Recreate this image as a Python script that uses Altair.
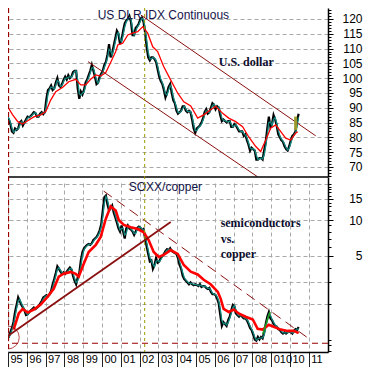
import altair as alt
import pandas as pd

# ---------------- data ----------------
START_YEAR, START_MONTH = 1994, 8   # first monthly observation (Aug 1994)

usd_close = [
    89.5, 89.0, 87.5, 88.0, 87.0,
    86.0, 84.5, 82.0, 81.5, 83.0, 82.5, 83.0, 85.0, 85.5, 84.0, 85.0, 86.0,
    87.0, 86.8, 87.2, 87.8, 88.5, 88.2, 87.0, 87.0, 88.0, 88.5, 87.8, 88.5,
    93.0, 96.0, 96.5, 97.5, 96.0, 96.5, 98.5, 100.0, 97.5, 97.0, 98.0, 99.5,
    100.5, 99.5, 101.0, 100.0, 100.5, 102.0, 102.5, 102.5, 96.5, 93.0, 95.5, 94.5,
    96.0, 98.5, 99.5, 101.0, 102.5, 104.5, 102.5, 100.5, 98.0, 98.5, 100.5, 101.5,
    102.5, 104.5, 105.5, 108.0, 111.5, 107.0, 108.5, 111.0, 113.5, 116.0, 115.0, 111.5,
    113.0, 116.0, 118.5, 119.5, 120.0, 121.0, 119.0, 114.5, 114.5, 117.0, 117.5, 118.5,
    120.0, 120.5, 119.0, 115.5, 110.5, 107.0, 106.0, 107.0, 107.0, 106.5, 105.5, 103.0,
    100.5, 99.0, 98.0, 96.0, 93.5, 95.0, 97.0, 98.0, 95.0, 92.5, 91.5, 89.0,
    88.0, 88.5, 89.0, 90.5, 90.5, 89.0, 88.5, 89.0, 88.5, 86.0, 83.0, 81.5,
    83.0, 83.5, 84.0, 85.0, 86.5, 88.5, 89.5, 88.0, 88.5, 90.0, 91.5, 91.0,
    89.5, 90.5, 90.0, 87.5, 85.5, 86.0, 85.5, 85.0, 85.5, 85.5, 83.5, 83.5,
    84.5, 84.0, 83.0, 82.0, 82.0, 82.0, 80.5, 81.0, 79.0, 77.5, 75.5, 76.5,
    76.0, 75.5, 72.5, 72.5, 73.0, 73.0, 72.5, 75.5, 78.5, 83.0, 87.0, 83.5,
    84.5, 87.5, 86.0, 84.0, 81.0, 80.0, 79.0, 78.5, 77.0, 76.0, 75.5, 77.0,
    79.0, 80.5, 81.0, 82.0, 85.5, 88.0,
]

soxx_copper = [
    1.15, 1.12, 1.10, 1.08, 1.02,
    1.05, 1.15, 1.25, 1.40, 1.70, 1.95, 2.25, 2.10, 1.95, 1.85, 1.75, 1.60,
    1.62, 1.70, 1.75, 1.80, 1.85, 1.80, 1.85, 1.90, 2.00, 2.10, 2.25, 2.30,
    2.35, 2.30, 2.40, 2.55, 2.90, 3.20, 3.60, 4.10, 3.90, 3.70, 3.55, 3.65,
    3.55, 3.70, 3.85, 4.00, 3.85, 3.40, 3.10, 2.90, 3.30, 3.60, 4.60, 5.40,
    5.80, 6.00, 6.20, 6.30, 6.20, 6.40, 6.80, 7.00, 7.20, 7.60, 8.20, 9.20,
    12.0, 15.5, 16.0, 13.5, 12.0, 12.5, 13.2, 11.5, 10.5, 9.5, 8.5, 8.0,
    9.0, 8.0, 7.0, 8.5, 9.0, 8.5, 8.3, 8.0, 7.5, 8.0, 8.6, 8.8,
    8.6, 8.2, 8.4, 7.0, 6.0, 5.2, 4.5, 4.6, 3.9, 4.2, 4.8, 4.4,
    4.5, 4.8, 5.0, 5.2, 5.5, 5.7, 5.6, 5.8, 5.5, 5.4, 5.3, 5.2,
    4.8, 4.2, 3.9, 3.4, 3.2, 3.1, 3.0, 2.9, 3.0, 2.9, 2.85, 2.9,
    2.85, 2.8, 2.9, 2.75, 2.8, 2.8, 2.7, 2.65, 2.7, 2.5, 2.4, 2.4,
    2.35, 2.2, 2.0, 1.6, 1.3, 1.4, 1.35, 1.3, 1.45, 1.55, 1.75, 1.95,
    1.9, 1.65, 1.6, 1.55, 1.6, 1.55, 1.5, 1.5, 1.45, 1.35, 1.25, 1.2,
    1.1, 1.0, 0.98, 1.05, 1.0, 1.05, 1.02, 1.15, 1.35, 1.55, 1.7, 1.5,
    1.45, 1.35, 1.3, 1.28, 1.22, 1.2, 1.15, 1.12, 1.15, 1.12, 1.15, 1.16,
    1.15, 1.12, 1.18, 1.22, 1.2, 1.27,
]

usd_ma_t = [1994.70, 1994.98, 1995.25, 1995.52, 1995.78, 1996.05, 1996.37, 1996.74,
            1997.01, 1997.27, 1997.54, 1997.91, 1998.23, 1998.60, 1998.87, 1999.13,
            1999.40, 1999.67, 1999.93, 2000.20, 2000.46, 2000.73, 2000.84, 2001.10,
            2001.37, 2001.63, 2001.90, 2002.17, 2002.43, 2002.70, 2002.96, 2003.28,
            2003.65, 2004.03, 2004.35, 2004.72, 2005.09, 2005.41, 2005.78, 2006.05,
            2006.42, 2006.74, 2007.11, 2007.48, 2007.80, 2008.18, 2008.44, 2008.71,
            2008.97, 2009.24, 2009.51, 2009.77, 2010.04, 2010.30, 2010.41]
usd_ma_v = [92.1, 90.4, 87.6, 85.3, 84.5, 85.6, 86.9, 87.6,
            88.7, 92.6, 95.4, 96.9, 98.8, 99.6, 97.7, 97.7,
            99.6, 101.1, 100.7, 101.9, 105.3, 109.0, 111.2, 111.8,
            114.6, 115.2, 115.7, 117.4, 115.2, 110.6, 109.0, 103.9,
            99.4, 94.9, 92.0, 90.6, 86.5, 87.6, 89.3, 90.5,
            88.1, 86.5, 85.3, 83.6, 80.2, 76.9, 75.2, 79.1,
            83.1, 84.2, 81.9, 79.7, 79.1, 81.4, 81.9]

soxx_ma_t = [1995.30, 1995.57, 1995.78, 1996.05, 1996.37, 1996.74, 1997.11, 1997.43,
             1997.70, 1997.96, 1998.34, 1998.60, 1998.76, 1999.03, 1999.29, 1999.67,
             1999.93, 2000.20, 2000.46, 2000.73, 2000.89, 2001.16, 2001.53, 2001.90,
             2002.22, 2002.48, 2002.75, 2003.02, 2003.28, 2003.65, 2004.03, 2004.35,
             2004.72, 2005.09, 2005.41, 2005.78, 2006.16, 2006.31, 2006.47, 2006.74,
             2007.01, 2007.27, 2007.64, 2008.02, 2008.28, 2008.55, 2008.87, 2009.13,
             2009.51, 2009.88, 2010.20, 2010.46]
soxx_ma_v = [1.21, 1.65, 1.80, 1.68, 1.78, 1.96, 2.28, 2.66,
             3.35, 3.55, 3.68, 3.55, 3.35, 4.30, 5.40, 6.20,
             7.20, 10.2, 13.0, 12.0, 10.0, 9.1, 8.7, 8.4,
             7.9, 6.8, 5.4, 4.9, 5.1, 5.6, 5.2, 4.2,
             3.7, 3.5, 3.16, 2.9, 2.5, 2.2, 1.8, 1.7,
             1.78, 1.65, 1.55, 1.47, 1.23, 1.21, 1.33, 1.28,
             1.21, 1.18, 1.18, 1.13]

# annotation lines (start / end in data units)
usd_channel_upper = [(2002.06, 121.35), (2011.37, 80.5)]
usd_channel_lower = [(1999.256, 105.57), (2008.27, 66.7)]
soxx_uptrend = [(1994.878, 1.04), (2003.655, 9.62)]
soxx_downtrend = [(2000.09, 17.45), (2010.99, 1.02)]
soxx_green = [(2008.55, 1.11), (2008.94, 1.70)]
usd_olive_bar = (2010.30, 82.5, 87.0)
marker_1995 = 1995.02
marker_2002 = 2002.27
soxx_floor = 0.93
circle_pt = (1994.985, 1.04)

x_years = list(range(1995, 2012))
usd_ticks = list(range(70, 121, 5))
soxx_ticks = [5, 10, 15]
soxx_grid = [2, 3, 5, 10, 15, 20]

# ---------------- scales ----------------
PX_PER_YEAR = 18.8
W, H = 320, 344
SEP = 169
X_DOM = [1995.0, 1995.0 + W / PX_PER_YEAR]
TOP_DOM = [66.6, 123.7]
BOT_DOM = [0.786, 22.9]

xs = alt.Scale(domain=X_DOM, nice=False, zero=False)
top_s = alt.Scale(domain=TOP_DOM, range=[SEP, 0], nice=False, zero=False)
bot_s = alt.Scale(type="log", domain=BOT_DOM, range=[H, SEP], nice=False)

FONT = "Liberation Sans"
SERIF = "Liberation Serif"
GRID = "#a8a8a8"
MAROON = "#8b1010"
TEAL = "#13877f"


def month_t(i):
    m = START_MONTH - 1 + i
    return START_YEAR + m // 12 + ((m % 12) + 0.5) / 12


usd_df = pd.DataFrame({"t": [month_t(i) for i in range(len(usd_close))], "v": usd_close})
sox_df = pd.DataFrame({"t": [month_t(i) for i in range(len(soxx_copper))], "v": soxx_copper})
usd_ma = pd.DataFrame({"t": usd_ma_t, "v": usd_ma_v})
sox_ma = pd.DataFrame({"t": soxx_ma_t, "v": soxx_ma_v})


def seg_df(pts):
    return pd.DataFrame({"t": [p[0] for p in pts], "v": [p[1] for p in pts]})


x_axis = alt.Axis(
    values=x_years, orient="bottom", title=None, grid=True, gridDash=[4, 3],
    gridColor=GRID, tickSize=15, tickColor="#222222", labelAlign="left",
    labelOffset=2, labelPadding=-14, labelFlush=False, labelOverlap=False,
    labelFontSize=11, labelFont=FONT, labelColor="black", labelBaseline="top",
    labelExpr="datum.value == 2009 ? '010' : substring(toString(datum.value), 2, 4)",
    domainColor="black", domainWidth=1.5,
)
# every layer carries the same x axis definition so the shared axis merges cleanly
X0 = alt.X("t:Q", scale=xs, axis=x_axis)

top_major = alt.Axis(
    orient="right", values=usd_ticks, title=None, grid=True, gridDash=[4, 3],
    gridColor=GRID, tickSize=5, tickColor="black", domainColor="black",
    domainWidth=1.5, labelAlign="right", labelPadding=29, labelFontSize=12,
    labelFont=FONT, labelColor="black", labelBaseline="middle", labelFlush=False,
    labelOverlap=False,
)
top_minor = alt.Axis(
    orient="right", values=list(range(67, 124)), title=None, grid=False,
    labels=False, domain=False, tickSize=3, tickColor="black",
)
bot_major = alt.Axis(
    orient="right", values=soxx_ticks, title=None, grid=False, tickSize=5,
    tickColor="black", domainColor="black", domainWidth=1.5, labelAlign="right",
    labelPadding=29, labelFontSize=12, labelFont=FONT, labelColor="black",
    labelBaseline="middle", labelFlush=False, labelOverlap=False,
)
bot_grid = alt.Axis(
    orient="right", values=soxx_grid, title=None, grid=True, gridDash=[4, 3],
    gridColor=GRID, labels=False, ticks=False, domain=False,
)
bot_minor = alt.Axis(
    orient="right", values=[0.8, 0.9] + list(range(1, 21)), title=None,
    grid=False, labels=False, domain=False, tickSize=3, tickColor="black",
)

layers = []

# ---- top panel: US dollar index ----
layers.append(
    alt.Chart(usd_df).mark_line(color="black", strokeWidth=2.2).encode(
        x=X0, y=alt.Y("v:Q", scale=top_s, axis=top_major)
    )
)
layers.append(
    alt.Chart(usd_df)
    .transform_window(ma="mean(v)", frame=[-1, 0], sort=[alt.SortField("t")])
    .mark_line(color=TEAL, strokeWidth=1.3)
    .encode(x=X0, y=alt.Y("ma:Q", scale=top_s, axis=top_minor))
)
layers.append(
    alt.Chart(usd_ma).mark_line(color="#ff0000", strokeWidth=1.3).encode(
        x=X0, y=alt.Y("v:Q", scale=top_s, axis=None)
    )
)
for seg in (usd_channel_upper, usd_channel_lower):
    layers.append(
        alt.Chart(seg_df(seg)).mark_line(color=MAROON, strokeWidth=1, clip=True).encode(
            x=X0, y=alt.Y("v:Q", scale=top_s, axis=None)
        )
    )
layers.append(
    alt.Chart(pd.DataFrame({"t": [usd_olive_bar[0]], "a": [usd_olive_bar[1]], "b": [usd_olive_bar[2]]}))
    .mark_rule(color="#9a9a2a", strokeWidth=3)
    .encode(x=X0, y=alt.Y("a:Q", scale=top_s, axis=None), y2="b:Q")
)
top_text = pd.DataFrame({
    "t": [1999.77, 2006.21], "v": [121.4, 105.5],
    "label": ["US DLR IDX Continuous", "U.S. dollar"],
})
layers.append(
    alt.Chart(top_text.iloc[[0]]).mark_text(
        align="left", baseline="middle", font=FONT, fontSize=12, color="#14144a"
    ).encode(x=X0, y=alt.Y("v:Q", scale=top_s, axis=None), text="label:N")
)
layers.append(
    alt.Chart(top_text.iloc[[1]]).mark_text(
        align="left", baseline="middle", font=SERIF, fontSize=12, fontWeight="bold",
        color="#0d0d2e"
    ).encode(x=X0, y=alt.Y("v:Q", scale=top_s, axis=None), text="label:N")
)
# panel separator at the bottom of the top scale
layers.append(
    alt.Chart(pd.DataFrame({"v": [TOP_DOM[0]]})).mark_rule(color="black", strokeWidth=1.5).encode(
        y=alt.Y("v:Q", scale=top_s, axis=None)
    )
)

# ---- bottom panel: SOXX / copper ----
layers.append(
    alt.Chart(sox_df).mark_line(color="black", strokeWidth=2.2).encode(
        x=X0, y=alt.Y("v:Q", scale=bot_s, axis=bot_major)
    )
)
layers.append(
    alt.Chart(sox_df)
    .transform_window(ma="mean(v)", frame=[-1, 0], sort=[alt.SortField("t")])
    .mark_line(color=TEAL, strokeWidth=1.3)
    .encode(x=X0, y=alt.Y("ma:Q", scale=bot_s, axis=bot_minor))
)
layers.append(
    alt.Chart(sox_ma).mark_line(color="#ff0000", strokeWidth=2.6).encode(
        x=X0, y=alt.Y("v:Q", scale=bot_s, axis=bot_grid)
    )
)
layers.append(
    alt.Chart(seg_df(soxx_uptrend)).mark_line(color=MAROON, strokeWidth=1.8, clip=True).encode(
        x=X0, y=alt.Y("v:Q", scale=bot_s, axis=None)
    )
)
layers.append(
    alt.Chart(seg_df(soxx_downtrend)).mark_line(color=MAROON, strokeWidth=1, strokeDash=[10, 6]).encode(
        x=X0, y=alt.Y("v:Q", scale=bot_s, axis=None)
    )
)
layers.append(
    alt.Chart(seg_df(soxx_green)).mark_line(color="#1f9a1f", strokeWidth=1.6).encode(
        x=X0, y=alt.Y("v:Q", scale=bot_s, axis=None)
    )
)
layers.append(
    alt.Chart(pd.DataFrame({"v": [soxx_floor]})).mark_rule(color="#990000", strokeWidth=1.2, strokeDash=[6, 4]).encode(
        y=alt.Y("v:Q", scale=bot_s, axis=None)
    )
)
layers.append(
    alt.Chart(pd.DataFrame({"t": [circle_pt[0]], "v": [circle_pt[1]]})).mark_point(
        shape="circle", size=530, filled=False, color="#990000", strokeWidth=1
    ).encode(x=X0, y=alt.Y("v:Q", scale=bot_s, axis=None))
)
bot_text = pd.DataFrame({
    "t": [2001.42, 2006.31, 2006.31, 2006.31],
    "v": [18.8, 9.44, 6.94, 5.20],
    "label": ["SOXX/copper", "semiconductors", "vs.", "copper"],
})
layers.append(
    alt.Chart(bot_text.iloc[[0]]).mark_text(
        align="left", baseline="middle", font=FONT, fontSize=12, color="#14144a"
    ).encode(x=X0, y=alt.Y("v:Q", scale=bot_s, axis=None), text="label:N")
)
layers.append(
    alt.Chart(bot_text.iloc[1:]).mark_text(
        align="left", baseline="middle", font=SERIF, fontSize=12, fontWeight="bold",
        color="#0d0d2e"
    ).encode(x=X0, y=alt.Y("v:Q", scale=bot_s, axis=None), text="label:N")
)

# ---- vertical markers across both panels ----
layers.append(
    alt.Chart(pd.DataFrame({"t": [marker_1995]})).mark_rule(color="#990000", strokeWidth=1.5, strokeDash=[5, 3]).encode(x=X0)
)
layers.append(
    alt.Chart(pd.DataFrame({"t": [marker_2002]})).mark_rule(color="#9a9a00", strokeWidth=1, strokeDash=[3, 3]).encode(x=X0)
)

chart = (
    alt.layer(*layers)
    .resolve_scale(y="independent")
    .resolve_axis(y="independent")
    .properties(
        width=W, height=H,
        autosize=alt.AutoSizeParams(type="none"),
        padding={"left": 0, "top": 0, "right": 35, "bottom": 15},
        background="white",
    )
    .configure_view(stroke=None)
)

chart.save("out.html", embed_options={"renderer": "svg", "actions": False})
